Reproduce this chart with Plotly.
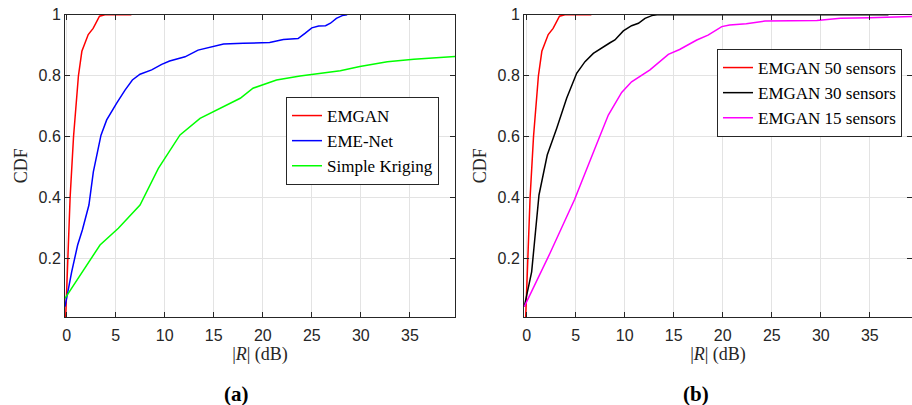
import plotly.graph_objects as go

# ---------------- data ----------------
# Panel (a)
emgan_x = [-0.1, 0.1, 0.35, 0.7, 0.95, 1.2, 1.55, 1.9, 2.2, 2.7, 3.0, 3.35, 3.9, 5.0, 6.6]
emgan_y = [0.009, 0.2, 0.4, 0.6, 0.71, 0.8, 0.88, 0.91, 0.935, 0.955, 0.975, 0.995, 1.0, 1.0, 1.0]

emenet_x = [-0.17, 0.51, 1.12, 1.6, 2.27, 2.72, 3.5, 4.08, 5.1, 5.95, 6.7, 7.48, 8.67, 9.69,
            10.5, 12.07, 13.4, 14.96, 16.0, 18.0, 20.7, 22.1, 23.6, 24.3, 25.0, 25.7, 26.4,
            26.9, 27.5, 28.1, 28.6]
emenet_y = [0.043, 0.157, 0.245, 0.294, 0.376, 0.485, 0.605, 0.655, 0.71, 0.753, 0.786, 0.805,
            0.819, 0.837, 0.848, 0.862, 0.884, 0.897, 0.904, 0.906, 0.909, 0.919, 0.922, 0.939,
            0.957, 0.963, 0.964, 0.972, 0.988, 0.997, 1.0]

kriging_x = [-0.17, 3.4, 5.27, 7.48, 9.35, 11.56, 13.6, 14.96, 17.7, 19.0, 21.4, 23.8, 27.9,
             29.9, 32.7, 35.4, 40.0]
kriging_y = [0.07, 0.245, 0.30, 0.376, 0.496, 0.606, 0.66, 0.682, 0.726, 0.759, 0.786, 0.799,
             0.816, 0.83, 0.846, 0.854, 0.864]

# Panel (b)
s50_x = emgan_x
s50_y = emgan_y

s30_x = [-0.24, 0.51, 1.26, 2.1, 3.06, 4.08, 5.1, 5.95, 6.8, 7.65, 8.5, 9.0, 9.86, 10.7, 11.4,
         12.07, 12.76, 13.3, 20.0, 30.0, 36.9]
s30_y = [0.043, 0.157, 0.409, 0.54, 0.627, 0.726, 0.808, 0.846, 0.873, 0.892, 0.908, 0.917,
         0.947, 0.964, 0.972, 0.988, 0.997, 1.0, 1.0, 1.0, 1.0]

s15_x = [-0.24, 2.38, 4.9, 5.78, 6.97, 8.33, 9.69, 10.7, 12.58, 14.45, 15.6, 17.35, 18.5, 19.9,
         20.7, 22.4, 24.3, 29.6, 32.0, 35.0, 40.0]
s15_y = [0.043, 0.218, 0.395, 0.464, 0.562, 0.671, 0.745, 0.78, 0.819, 0.87, 0.886, 0.917, 0.933,
         0.961, 0.966, 0.97, 0.979, 0.981, 0.988, 0.99, 0.995]

x_ticks = [0, 5, 10, 15, 20, 25, 30, 35]
y_ticks = [0.2, 0.4, 0.6, 0.8, 1.0]
y_tick_text = ["0.2", "0.4", "0.6", "0.8", "1"]

# ---------------- figure ----------------
W, H = 912, 405
LW = 1.5
fig = go.Figure()

def add(x, y, name, color, xa, ya, leg):
    fig.add_trace(go.Scatter(x=x, y=y, mode="lines", name=name,
                             line=dict(color=color, width=LW),
                             xaxis=xa, yaxis=ya, legend=leg))

add(emgan_x, emgan_y, "EMGAN", "#ff0000", "x", "y", "legend")
add(emenet_x, emenet_y, "EME-Net", "#0000ff", "x", "y", "legend")
add(kriging_x, kriging_y, "Simple Kriging", "#00ff00", "x", "y", "legend")
add(s50_x, s50_y, "EMGAN 50 sensors", "#ff0000", "x2", "y2", "legend2")
add(s30_x, s30_y, "EMGAN 30 sensors", "#000000", "x2", "y2", "legend2")
add(s15_x, s15_y, "EMGAN 15 sensors", "#ff00ff", "x2", "y2", "legend2")

ydom = [(H - 317) / H, (H - 14.7) / H]
tickfont = dict(family="Liberation Sans", size=16, color="#262626")
serif = "Liberation Serif"

def xaxis(dom, rng, anchor):
    return dict(domain=dom, range=rng, anchor=anchor, tickvals=x_ticks, automargin=False,
                ticks="inside", ticklen=5, tickcolor="#262626", showline=True,
                linecolor="#262626", linewidth=1, mirror="ticks", showgrid=True,
                gridcolor="#e3e3e3", gridwidth=1, zeroline=False, tickfont=tickfont,
                ticklabelstandoff=4,
                title=dict(text="|<i>R</i>| (dB)", font=dict(family=serif, size=18, color="#262626"),
                           standoff=3))

def yaxis(rng, anchor):
    return dict(domain=ydom, range=rng, anchor=anchor, tickvals=y_ticks, ticktext=y_tick_text,
                automargin=False,
                ticks="inside", ticklen=5, tickcolor="#262626", showline=True,
                linecolor="#262626", linewidth=1, mirror="ticks", showgrid=True,
                gridcolor="#e3e3e3", gridwidth=1, zeroline=False, tickfont=tickfont,
                title=dict(text="CDF", font=dict(family=serif, size=18, color="#262626"),
                           standoff=6))

legfont = dict(family=serif, size=17, color="#000000")

fig.update_layout(
    width=W, height=H, margin=dict(l=0, r=0, t=0, b=0),
    paper_bgcolor="white", plot_bgcolor="white",
    xaxis=xaxis([65 / W, 455 / W], [-0.17, 39.6], "y"),
    yaxis=yaxis([0.009, 1.0], "x"),
    xaxis2=xaxis([524 / W, 1.0], [-0.27, 39.3], "y2"),
    yaxis2=yaxis([0.009, 1.0], "x2"),
    legend=dict(x=286 / W, y=(H - 97) / H, xanchor="left", yanchor="top",
                bgcolor="white", bordercolor="#262626", borderwidth=1, font=legfont,
                tracegroupgap=0),
    legend2=dict(x=717 / W, y=(H - 49) / H, xanchor="left", yanchor="top",
                 bgcolor="white", bordercolor="#262626", borderwidth=1, font=legfont,
                 tracegroupgap=0),
    showlegend=True,
    annotations=[
        dict(text="<b>(a)</b>", x=236 / W, y=(H - 394) / H, xref="paper", yref="paper",
             xanchor="center", yanchor="middle",
             showarrow=False, font=dict(family=serif, size=21, color="#000000")),
        dict(text="<b>(b)</b>", x=696 / W, y=(H - 394) / H, xref="paper", yref="paper",
             xanchor="center", yanchor="middle",
             showarrow=False, font=dict(family=serif, size=21, color="#000000")),
    ],
)

fig.write_html("out.html", config={"displayModeBar": False},
               post_script="document.body.style.margin='0';document.body.style.overflow='hidden';")
